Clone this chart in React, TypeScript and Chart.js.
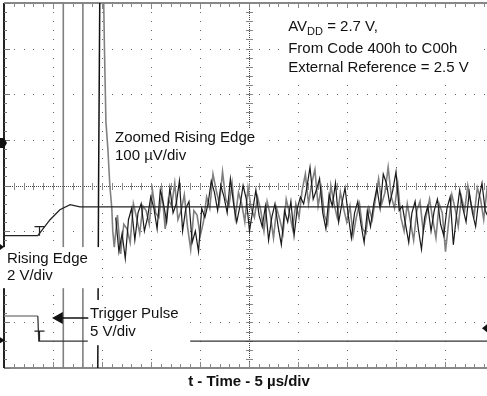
import React, { useEffect, useRef } from "react";
import { Chart, registerables } from "chart.js";
Chart.register(...registerables);

// Rising edge (2 V/div), time in divisions (5 µs/div), level in divisions
const riseTime = [0, 0.69, 0.94, 1.14, 1.35, 1.55, 10];
const riseLevel = [2.9, 2.9, 3.25, 3.47, 3.58, 3.53, 3.53];

// Trigger pulse (5 V/div)
const trigTime = [0, 0.69, 0.71, 10];
const trigLevel = [1.14, 1.14, 0.59, 0.59];

// Zoomed rising edge (100 µV/div) – off-scale excursions before settling
const spikeTime = [1.21, 1.21, 1.61, 1.61, 2.02, 2.05, 2.08, 2.12, 2.16, 2.2, 2.22];
const spikeLevel = [9, -1, -1, 9, 9, 7.0, 5.4, 4.8, 4.0, 3.5, 3.0];

const edgeTime = [1.96, 1.93, 1.91];
const edgeLevel = [9, 4, -1];

// Settling noise samples
const noiseStart = 2.25;
const noiseStep = 0.065;
const noiseGrey = [
  2.65, 3.35, 2.5, 3.15,
  3.05, 2.75, 3.6, 3.3, 2.95, 3.55,
  3.45, 3.15, 3.9, 3.4, 3.3, 3.85, 3.05,
  3.7, 3.55, 4.05, 3.25, 3.45, 3.8,
  3.1, 2.6, 3.45, 3.35, 2.9, 3.2,
  3.75, 3.5, 4.25, 3.9, 3.6, 4.3, 3.7, 3.55, 4.05, 3.3,
  3.85, 3.6, 3.2, 3.95, 3.5, 3.3, 3.75,
  3.45, 3.0, 3.65, 3.35, 2.85, 3.5, 3.25, 2.95, 3.7, 3.4, 3.05, 3.6, 3.3,
  3.9, 4.25, 3.6, 4.05, 4.35, 3.55,
  3.95, 3.35, 3.15, 4.0, 3.6, 3.3, 3.85, 3.5,
  3.2, 3.55, 2.9, 3.3, 3.6, 3.05, 2.95, 3.5, 3.25,
  3.7, 4.15, 3.6, 3.85, 4.4, 3.75, 3.5, 4.05,
  3.3, 3.0, 3.6, 3.2, 2.8, 3.45, 3.65, 3.0, 3.35, 3.7,
  3.25, 2.85, 3.6, 3.4, 2.55, 3.2, 3.8, 3.5, 3.1,
  3.75, 3.45, 4.0, 3.6, 3.35, 3.95, 3.7, 3.25, 3.9, 3.55, 3.8,
];
const noiseBlack = [
  3.3, 2.55, 2.95, 2.4,
  3.25, 3.5, 2.8, 3.4, 3.6, 3.0,
  3.3, 3.75, 3.5, 3.05, 3.9, 3.6, 3.2,
  3.95, 3.4, 3.6, 4.1, 3.0, 3.5,
  3.65, 2.75, 3.0, 2.55, 3.5, 3.3,
  3.6, 4.1, 3.85, 3.45, 4.0, 3.75, 3.4, 4.15, 3.6, 3.2,
  3.55, 4.0, 3.7, 3.0, 3.45, 3.9, 3.35,
  3.1, 3.55, 2.8, 3.3, 3.6, 3.1, 2.7, 3.45, 3.2, 3.65, 2.9, 3.5, 3.75,
  3.6, 3.95, 4.4, 3.7, 3.9, 4.15,
  3.4, 3.05, 3.8, 3.55, 4.05, 3.2, 3.6, 3.95,
  3.35, 2.85, 3.4, 3.65, 3.15, 2.75, 3.45, 3.1, 3.6,
  3.95, 3.5, 4.25, 4.05, 3.6, 3.9, 4.3, 3.45,
  3.55, 3.15, 2.75, 3.4, 3.65, 3.05, 2.6, 3.3, 3.55, 3.0,
  3.45, 3.7, 3.15, 2.9, 3.5, 3.75, 2.7, 3.35, 3.9,
  3.5, 3.2, 3.85, 3.4, 3.1, 3.7, 4.05, 3.45, 3.3, 3.85, 3.55,
];

const xTitle = "t - Time - 5 µs/div";
const FONT = '"Liberation Sans", Arial, sans-serif';

const pts = (xs: number[], ys: number[]) => xs.map((x, i) => ({ x, y: ys[i] }));
const noisePts = (vals: number[], offset: number) =>
  vals.map((v, i) => ({ x: noiseStart + offset + i * noiseStep, y: v }));

const scopePlugin = {
  id: "scope",
  beforeDatasetsDraw(chart: any) {
    const { ctx, chartArea: a, scales } = chart;
    const X = (v: number) => scales.x.getPixelForValue(v);
    const Y = (v: number) => scales.y.getPixelForValue(v);
    ctx.save();
    ctx.fillStyle = "#666";
    // dotted grid
    for (let i = 1; i < 10; i++) {
      if (i === 5) continue;
      const px = Math.round(X(i));
      for (let k = 0; k <= 40; k++) ctx.fillRect(px, Math.round(Y(k * 0.2)), 1, 1);
    }
    for (let j = 1; j < 8; j++) {
      if (j === 4) continue;
      const py = Math.round(Y(j));
      for (let k = 0; k <= 50; k++) ctx.fillRect(Math.round(X(k * 0.2)), py, 1, 1);
    }
    // center crosshair
    const cx = Math.round(X(5));
    const cy = Math.round(Y(4));
    ctx.fillStyle = "#444";
    for (let py = a.top; py < a.bottom; py += 2) ctx.fillRect(cx, py, 1, 1);
    for (let px = a.left; px < a.right; px += 2) ctx.fillRect(px, cy, 1, 1);
    ctx.fillStyle = "#888";
    for (let k = 0; k <= 40; k++) ctx.fillRect(cx - 3, Math.round(Y(k * 0.2)), 7, 1);
    for (let k = 0; k <= 50; k++) ctx.fillRect(Math.round(X(k * 0.2)), cy - 3, 1, 7);
    // borders
    ctx.fillStyle = "#888";
    ctx.fillRect(a.left, a.top - 1, a.right - a.left, 2);
    ctx.fillRect(a.left, a.bottom - 1, a.right - a.left, 2);
    for (let k = 0; k <= 50; k++) {
      const px = Math.round(X(k * 0.2));
      const len = k % 5 === 0 ? 6 : 4;
      ctx.fillRect(px, a.top, 1, len);
      ctx.fillRect(px, a.bottom - len, 1, len);
    }
    ctx.fillStyle = "#222";
    ctx.fillRect(a.left - 1, a.top, 2, a.bottom - a.top);
    ctx.fillStyle = "#777";
    for (let k = 0; k <= 40; k++) {
      ctx.fillRect(a.left, Math.round(Y(k * 0.2)), k % 5 === 0 ? 6 : 3, 1);
    }
    ctx.restore();
  },
  afterDatasetsDraw(chart: any) {
    const { ctx, scales } = chart;
    const X = (v: number) => scales.x.getPixelForValue(v);
    const Y = (v: number) => scales.y.getPixelForValue(v);
    ctx.save();
    // label backgrounds
    ctx.fillStyle = "#fff";
    const box = (x0: number, y0: number, x1: number, y1: number) =>
      ctx.fillRect(X(x0), Y(y0), X(x1) - X(x0), Y(y1) - Y(y0));
    box(5.69, 7.89, 9.63, 6.38);
    box(2.18, 5.26, 5.27, 4.45);
    box(-0.09, 2.65, 1.96, 1.75);
    box(1.71, 1.49, 3.8, 0.5);

    ctx.fillStyle = "#111";
    ctx.textBaseline = "alphabetic";
    ctx.textAlign = "left";
    ctx.font = `15px ${FONT}`;
    // AVDD line
    let tx = X(5.8);
    const b1 = Y(7.39);
    ctx.fillText("AV", tx, b1);
    tx += ctx.measureText("AV").width;
    ctx.font = `11px ${FONT}`;
    ctx.fillText("DD", tx, b1 + 4);
    tx += ctx.measureText("DD").width;
    ctx.font = `15px ${FONT}`;
    ctx.fillText(" = 2.7 V,", tx, b1);
    ctx.fillText("From Code 400h to C00h", X(5.8), Y(6.9));
    ctx.fillText("External Reference = 2.5 V", X(5.8), Y(6.49));

    ctx.fillText("Zoomed Rising Edge", X(2.265), Y(4.95));
    ctx.fillText("100 µV/div", X(2.265), Y(4.56));
    ctx.fillText("Rising Edge", X(0.06), Y(2.3));
    ctx.fillText("2 V/div", X(0.06), Y(1.93));
    ctx.fillText("Trigger Pulse", X(1.755), Y(1.1));
    ctx.fillText("5 V/div", X(1.755), Y(0.71));

    // trigger arrow
    const ay = Math.round(Y(1.1));
    ctx.strokeStyle = "#111";
    ctx.lineWidth = 1.5;
    ctx.beginPath();
    ctx.moveTo(X(1.18), ay);
    ctx.lineTo(X(1.72), ay);
    ctx.stroke();
    ctx.beginPath();
    ctx.moveTo(X(0.98), ay);
    ctx.lineTo(X(1.2), ay - 6);
    ctx.lineTo(X(1.2), ay + 6);
    ctx.closePath();
    ctx.fill();

    // trigger "T" markers
    ctx.lineWidth = 1.2;
    ctx.strokeStyle = "#222";
    const tMark = (xv: number, yLow: number, yHigh: number) => {
      const px = Math.round(X(xv)) + 0.5;
      ctx.beginPath();
      ctx.moveTo(px, Y(yLow));
      ctx.lineTo(px, Y(yHigh));
      ctx.moveTo(px - 5, Y(yHigh));
      ctx.lineTo(px + 5, Y(yHigh));
      ctx.stroke();
    };
    tMark(0.72, 2.9, 3.1);
    tMark(0.72, 0.59, 0.81);

    // channel reference markers
    ctx.fillStyle = "#111";
    const tri = (p: number[][]) => {
      ctx.beginPath();
      ctx.moveTo(p[0][0], p[0][1]);
      for (let i = 1; i < p.length; i++) ctx.lineTo(p[i][0], p[i][1]);
      ctx.closePath();
      ctx.fill();
    };
    const m1 = Y(4.93);
    tri([[0, m1 - 5], [4, m1 - 5], [7, m1], [4, m1 + 5], [0, m1 + 5]]);
    const m2 = Y(2.65);
    tri([[0, m2 - 3], [4, m2], [0, m2 + 3]]);
    const m3 = Y(0.61);
    tri([[0, m3 - 3], [5, m3], [0, m3 + 3]]);
    const m4 = Y(0.87);
    tri([[482, m4], [487, m4 - 4], [487, m4 + 4]]);
    ctx.restore();
  },
};

export default function App() {
  const ref = useRef<HTMLCanvasElement>(null);
  useEffect(() => {
    if (!ref.current) return;
    const common = { pointRadius: 0, tension: 0, fill: false, clip: 0, spanGaps: false };
    const chart = new Chart(ref.current, {
      type: "line",
      data: {
        datasets: [
          { ...common, label: "Rising Edge", data: pts(riseTime, riseLevel), borderColor: "#222", borderWidth: 1.3 },
          { ...common, label: "Trigger Pulse", data: pts(trigTime, trigLevel), borderWidth: 1.3,
            segment: { borderColor: (c: any) => (c.p0DataIndex < 1 ? "#888" : "#333") }, borderColor: "#333" },
          { ...common, label: "Edge", data: pts(edgeTime, edgeLevel), borderColor: "#111", borderWidth: 1.5 },
          { ...common, label: "Zoomed black", data: noisePts(noiseBlack, 0.03), borderColor: "#1a1a1a", borderWidth: 1.2 },
          { ...common, label: "Zoomed grey", data: [...pts(spikeTime, spikeLevel), ...noisePts(noiseGrey, 0)], borderColor: "#808080", borderWidth: 1.6 },
        ],
      },
      options: {
        animation: false,
        responsive: false,
        devicePixelRatio: 1,
        layout: { padding: { left: 4, right: 6, top: 3, bottom: 5 } },
        plugins: { legend: { display: false }, tooltip: { enabled: false } },
        scales: {
          x: {
            type: "linear", min: 0, max: 10,
            ticks: { display: false },
            grid: { display: false, drawTicks: false },
            border: { display: false },
            title: { display: true, text: xTitle, color: "#111", font: { family: FONT, size: 15, weight: "bold", lineHeight: 1.2 }, padding: { top: 5, bottom: 0 } },
          },
          y: { type: "linear", min: 0, max: 8, display: false },
        },
      },
      plugins: [scopePlugin],
    } as any);
    return () => chart.destroy();
  }, []);
  return (
    <div style={{ position: "fixed", left: 0, top: 0, width: 487, height: 396, overflow: "hidden", background: "#fff" }}>
      <canvas ref={ref} width={500} height={396} style={{ display: "block" }} />
    </div>
  );
}
